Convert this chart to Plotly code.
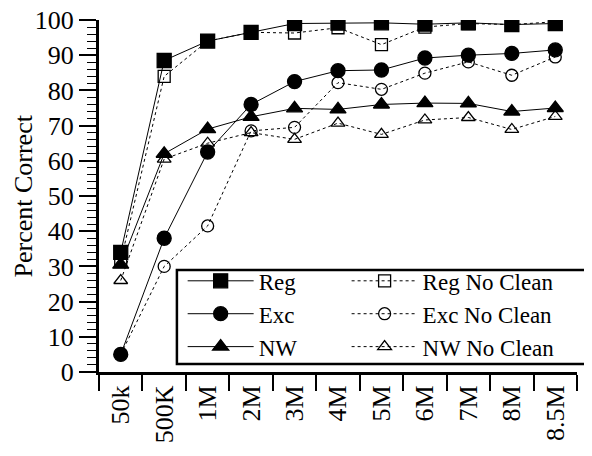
import plotly.graph_objects as go

sizes = ["50k", "500K", "1M", "2M", "3M", "4M", "5M", "6M", "7M", "8M", "8.5M"]
reg = [34, 88.5, 94, 96.5, 99, 99.1, 99.2, 98.8, 99.2, 98.7, 99]
reg_nc = [31.5, 84, 94, 96.5, 96.3, 97.8, 93, 98, 99, 98.7, 99.5]
exc = [5, 38, 62.5, 76, 82.5, 85.6, 85.8, 89.2, 90, 90.5, 91.5]
exc_nc = [5, 30, 41.5, 68.5, 69.5, 82.2, 80.3, 84.9, 88.1, 84.3, 89.5]
nw = [30.5, 62, 69, 72.5, 74.9, 74.6, 76, 76.4, 76.3, 74, 75]
nw_nc = [26, 60.5, 65, 68, 66.1, 70.7, 67.5, 71.6, 72.3, 68.9, 72.6]

font = "Liberation Serif"

series = [
    ("Reg", reg, "square", "solid", "legend"),
    ("Exc", exc, "circle", "solid", "legend"),
    ("NW", nw, "triangle-up", "solid", "legend"),
    ("Reg No Clean", reg_nc, "square-open", "dot", "legend2"),
    ("Exc No Clean", exc_nc, "circle-open", "dot", "legend2"),
    ("NW No Clean", nw_nc, "triangle-up-open", "dot", "legend2"),
]

fig = go.Figure()
for name, vals, sym, dash, leg in series:
    filled = "open" not in sym
    fig.add_trace(go.Scatter(
        x=sizes, y=vals, name=name, mode="lines+markers", legend=leg,
        line=dict(color="black", width=1, dash=dash),
        marker=dict(symbol=sym, size=14 if filled else 12, color="black",
                    line=dict(color="black", width=1.3)),
    ))

leg_common = dict(
    orientation="v", xanchor="left", yanchor="top", y=0.320,
    bgcolor="rgba(0,0,0,0)", borderwidth=0,
    font=dict(family=font, size=23, color="black"),
    tracegroupgap=0, itemwidth=66,
)

# legend frame
fig.add_shape(type="rect", xref="paper", yref="paper", x0=0.163, x1=1.05, y0=0.023, y1=0.29,
              line=dict(color="black", width=2.5), fillcolor="white", layer="below")

# y-axis title
fig.add_annotation(text="Percent Correct", xref="paper", yref="paper", x=-0.16, y=0.5,
                   textangle=-90, showarrow=False, xanchor="center", yanchor="middle",
                   font=dict(family=font, size=26, color="black"))

fig.update_layout(
    template="none",
    width=584, height=448,
    margin=dict(l=91, r=15, t=12, b=84, autoexpand=False),
    paper_bgcolor="white", plot_bgcolor="white",
    font=dict(family=font, size=26, color="black"),
    showlegend=True,
    legend=dict(x=0.175, **leg_common),
    legend2=dict(x=0.518, **leg_common),
    xaxis=dict(
        type="category", tickson="boundaries", ticks="outside", ticklen=16,
        tickwidth=1.5, tickcolor="black", tickangle=-90,
        showline=True, linecolor="black", linewidth=3, showgrid=False,
        tickfont=dict(family=font, size=26), range=[-0.5, 10.5],
    ),
    yaxis=dict(
        range=[0, 100], tickvals=list(range(0, 101, 10)),
        ticks="outside", ticklen=17, tickwidth=1.5, tickcolor="black",
        minor=dict(dtick=2, ticks="outside", ticklen=9, tickwidth=1, tickcolor="black"),
        showline=True, linecolor="black", linewidth=3, showgrid=False, zeroline=False,
        tickfont=dict(family=font, size=26), ticklabeloverflow="allow",
    ),
)

fig.write_html("out.html")
